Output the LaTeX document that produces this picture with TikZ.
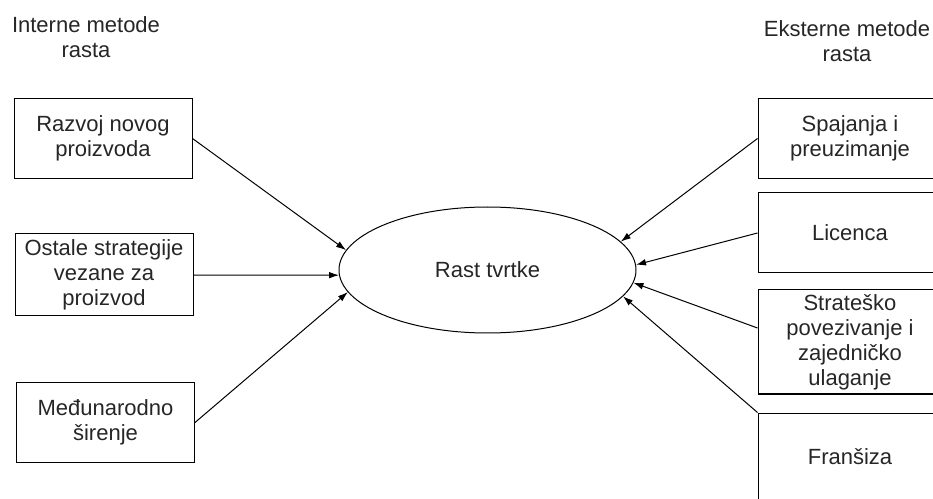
\documentclass[tikz,border=0pt]{standalone}
\usepackage{fontspec}
\setmainfont{Liberation Sans}
\usetikzlibrary{shapes.geometric,arrows.meta}

\begin{document}
\begin{tikzpicture}[x=0.75pt, y=-0.75pt,
	every node/.style={font=\fontsize{16.5}{18.75}\selectfont, text=black!85},
	box/.style={draw, rectangle, line width=0.75pt, align=center, inner sep=0pt, minimum width=133.5pt, minimum height=60pt},
	rbox/.style={box, minimum width=138pt},
	goal/.style={draw, ellipse, line width=0.75pt, inner sep=0pt, minimum width=222.75pt, minimum height=94.5pt},
	arr/.style={-{Latex[length=7.5pt, width=5pt]}, line width=0.75pt}]
	% Frame
	\useasboundingbox (0,0) rectangle (933,499);
	\clip (0,0) rectangle (933,499);

	% Titles
	\node at (86,37) [align=center] (interne) {Interne metode\\rasta};
	\node at (847,41) [align=center] (eksterne) {Eksterne metode\\rasta};

	% Centre
	\node at (487.5,270) [goal] (rast) {Rast tvrtke};

	% Internal methods
	\node at (103,138.5) [box] (razvoj) {Razvoj novog\\proizvoda};
	\node at (104,275) [box, minimum height=61.5pt] (ostale) {Ostale strategije\\vezane za\\proizvod};
	\node at (105.5,422.5) [box] (medjunarodno) {Međunarodno\\širenje};

	% External methods
	\node at (850,138.5) [rbox] (spajanja) {Spajanja i\\preuzimanje};
	\node at (850,233) [rbox] (licenca) {Licenca};
	\node at (850,342) [rbox, minimum height=78pt] (stratesko) {Strateško\\povezivanje i\\zajedničko\\ulaganje};
	\node at (850,457) [rbox, minimum height=66pt] (fransiza) {Franšiza};

	% Arrows into the centre
	\draw[arr] (razvoj.east) -- (rast.172.8);
	\draw[arr] (ostale.east) -- (rast.182.3);
	\draw[arr] (medjunarodno.east) -- (rast.189.3);
	\draw[arr] (spajanja.west) -- (rast.12.8);
	\draw[arr] (licenca.west) -- (rast.2.7);
	\draw[arr] ([yshift=10.5pt]stratesko.west) -- (rast.-5);
	\draw[arr] (fransiza.north west) -- (rast.-11);

\end{tikzpicture}
\end{document}
